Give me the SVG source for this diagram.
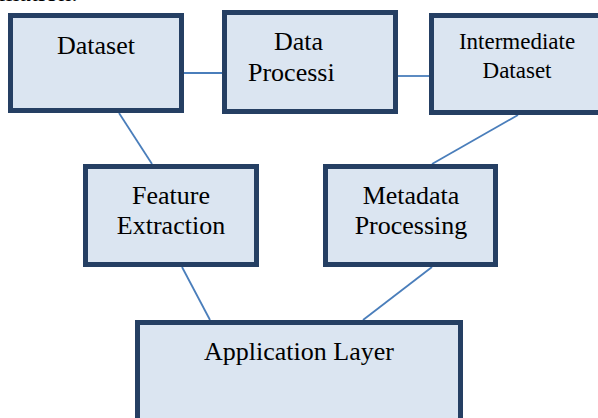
<svg xmlns="http://www.w3.org/2000/svg" width="598" height="418" viewBox="0 0 598 418">
<style>
.box{fill:#dbe5f1;stroke:#253f63;stroke-width:5}
.t{font-family:"Liberation Serif","Times New Roman",serif;font-size:26px;fill:#000}
.s{font-size:23px}
.c{stroke:#4a7ebb;stroke-width:1.8;fill:none}
</style>
<rect width="598" height="418" fill="#fff"/>
<text class="t" x="-1" y="1">mation.</text>
<g id="connectors">
<line class="c" x1="184" y1="73" x2="222" y2="73"/>
<line class="c" x1="398" y1="76" x2="429" y2="76"/>
<line class="c" x1="119" y1="113" x2="152" y2="164"/>
<line class="c" x1="518" y1="115" x2="432" y2="164"/>
<line class="c" x1="182" y1="267" x2="210" y2="320"/>
<line class="c" x1="432" y1="267" x2="363" y2="320"/>
</g>
<g id="dataset">
<rect class="box" x="10.5" y="15.5" width="171" height="95"/>
<text class="t" x="96" y="54" text-anchor="middle">Dataset</text>
</g>
<g id="data-processing">
<rect class="box" x="224.5" y="12.5" width="171" height="99"/>
<text class="t" x="274" y="50">Data</text>
<text class="t" x="248" y="81">Processi</text>
</g>
<g id="intermediate-dataset">
<rect class="box" x="431.5" y="15.5" width="172" height="97"/>
<text class="t s" x="517" y="49" text-anchor="middle">Intermediate</text>
<text class="t s" x="517" y="78" text-anchor="middle">Dataset</text>
</g>
<g id="feature-extraction">
<rect class="box" x="85.5" y="166.5" width="171" height="98"/>
<text class="t" x="171" y="204" text-anchor="middle">Feature</text>
<text class="t" x="171" y="234" text-anchor="middle">Extraction</text>
</g>
<g id="metadata-processing">
<rect class="box" x="325.5" y="166.5" width="170" height="98"/>
<text class="t" x="411" y="204" text-anchor="middle">Metadata</text>
<text class="t" x="411" y="234" text-anchor="middle">Processing</text>
</g>
<g id="application-layer">
<rect class="box" x="137.5" y="322.5" width="323" height="110"/>
<text class="t" x="299" y="360" text-anchor="middle">Application Layer</text>
</g>
</svg>
